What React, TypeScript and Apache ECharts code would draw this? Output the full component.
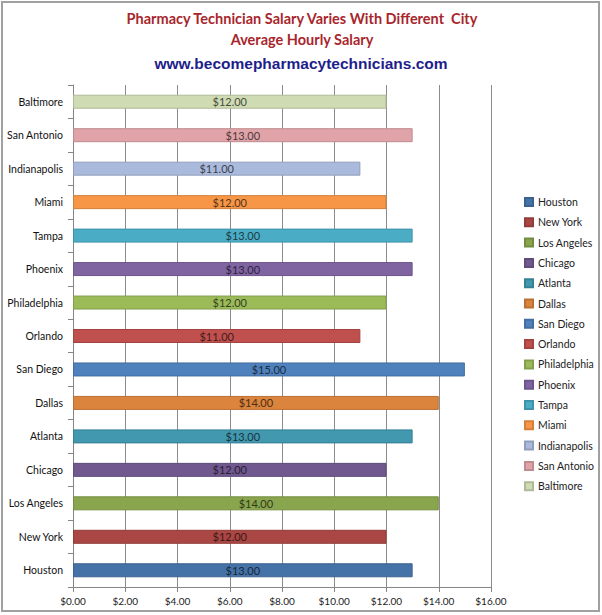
import React, { useEffect, useRef } from "react";
import * as echarts from "echarts";

const cities = [
  "Houston", "New York", "Los Angeles", "Chicago", "Atlanta", "Dallas", "San Diego",
  "Orlando", "Philadelphia", "Phoenix", "Tampa", "Miami", "Indianapolis", "San Antonio", "Baltimore",
];
const salaries = [13, 12, 14, 12, 13, 14, 15, 11, 12, 13, 13, 12, 11, 13, 12];
const xTicks = [0, 2, 4, 6, 8, 10, 12, 14, 16];
const titleLines = ["Pharmacy Technician Salary Varies With Different  City", "Average Hourly Salary"];
const siteUrl = "www.becomepharmacytechnicians.com";

const colors = [
  "#4572a7", "#aa4643", "#89a54e", "#71588f", "#4198af", "#db843d", "#4f81bd",
  "#c0504d", "#9bbb59", "#8064a2", "#4bacc6", "#f79646", "#aabadc", "#e0a3a8", "#cfdbb3",
];

function darken(hex: string, f: number) {
  const n = parseInt(hex.slice(1), 16);
  const r = Math.round(((n >> 16) & 255) * f);
  const g = Math.round(((n >> 8) & 255) * f);
  const b = Math.round((n & 255) * f);
  return `rgb(${r},${g},${b})`;
}

const FONT = "Lato, 'Open Sans', sans-serif";

export default function App() {
  const ref = useRef<HTMLDivElement>(null);
  useEffect(() => {
    if (!ref.current) return;
    const chart = echarts.init(ref.current, undefined, { renderer: "svg" });
    const series = cities.map((c, i) => ({
      name: c,
      type: "bar",
      stack: "all",
      barWidth: 14,
      data: cities.map((_, j) => (j === i ? salaries[i] : null)),
      itemStyle: { color: colors[i], borderColor: darken(colors[i], 0.85), borderWidth: 1 },
      label: {
        show: true,
        position: "inside",
        formatter: (p: any) => "$" + Number(p.value).toFixed(2),
        color: darken(colors[i], 0.35),
        fontFamily: FONT,
        fontSize: 11,
      },
    }));
    chart.setOption({
      animation: false,
      backgroundColor: "#ffffff",
      textStyle: { fontFamily: FONT },
      legend: {
        orient: "vertical",
        left: 519,
        top: 191,
        icon: "rect",
        itemWidth: 8,
        itemHeight: 8,
        itemGap: 8.3,
        data: cities,
        textStyle: { fontSize: 10.5, color: "#222", fontFamily: FONT, lineHeight: 12 },
      },
      grid: { left: 73, right: 111, top: 85, bottom: 28, containLabel: false },
      xAxis: {
        type: "value",
        min: 0,
        max: 16,
        interval: 2,
        axisLine: { show: true, lineStyle: { color: "#868686" } },
        axisTick: { show: true, length: 5, lineStyle: { color: "#868686" } },
        splitLine: { show: true, lineStyle: { color: "#8c8c8c" } },
        axisLabel: {
          formatter: (v: number) => (xTicks.includes(v) ? "$" + v.toFixed(2) : ""),
          color: "#222",
          fontSize: 10,
          fontFamily: FONT,
          margin: 9,
        },
      },
      yAxis: {
        type: "category",
        data: cities,
        axisLine: { show: true, lineStyle: { color: "#868686" } },
        axisTick: { show: true, length: 5, lineStyle: { color: "#868686" } },
        axisLabel: { color: "#111", fontSize: 10.5, fontFamily: FONT, margin: 10 },
      },
      graphic: [
        {
          type: "rect",
          shape: { x: 2, y: 2, width: 597, height: 609 },
          style: { fill: "none", stroke: "#a0a0a0", lineWidth: 2 },
          silent: true,
        },
        {
          type: "text",
          x: 302,
          y: 18,
          style: { text: titleLines[0], fill: "#a8262c", font: "bold 14.5px " + FONT, textAlign: "center", textVerticalAlign: "middle" },
        },
        {
          type: "text",
          x: 302,
          y: 39,
          style: { text: titleLines[1], fill: "#a8262c", font: "bold 14.5px " + FONT, textAlign: "center", textVerticalAlign: "middle" },
        },
        {
          type: "text",
          x: 301,
          y: 63,
          style: { text: siteUrl, fill: "#1e1e8a", font: "bold 15.5px 'Liberation Sans', Arial, sans-serif", textAlign: "center", textVerticalAlign: "middle" },
        },
      ],
      series,
    });
    return () => chart.dispose();
  }, []);
  return (
    <div
      ref={ref}
      style={{ position: "absolute", left: 0, top: 0, width: 602, height: 615 }}
    />
  );
}
